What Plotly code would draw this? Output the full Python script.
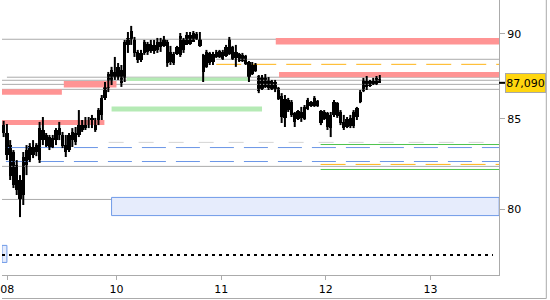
import math
import plotly.graph_objects as go

# ---------------- data ----------------
# 15-minute bars, x = bar index
bar_open = [84.77, 84.20, 83.52, 83.13, 82.41, 81.58, 80.76, 82.41, 82.68, 83.41,
            83.13, 82.68, 84.37, 83.46, 83.97, 83.41, 83.80, 84.48, 84.09, 83.52,
            83.24, 83.80, 84.20, 84.09, 84.77, 84.48, 84.94, 84.65, 84.94, 84.77,
            85.23, 86.21, 86.79, 87.08, 87.73, 87.43, 87.85, 87.38, 89.34, 89.70,
            89.64, 88.92, 88.44, 88.86, 89.40, 88.98, 89.34, 89.04, 89.52, 89.28,
            89.52, 88.32, 88.80, 88.80, 88.74, 89.70, 89.34, 89.94, 89.52, 90.00,
            89.70, 88.74, 88.03, 88.86, 88.32, 88.92, 88.62, 88.92, 88.68, 88.80,
            89.22, 88.56, 88.80, 88.38, 88.68, 88.32, 87.61, 88.20, 87.49, 86.73,
            87.43, 86.79, 87.20, 86.73, 86.79, 86.32, 85.06, 86.09, 85.97, 85.34,
            84.98, 85.40, 85.00, 85.57, 85.97, 85.75, 86.03, 85.45, 85.00, 85.34,
            84.48, 85.23, 85.91, 85.40, 84.83, 84.54, 85.06, 84.60, 85.11, 85.97,
            86.61, 87.20, 86.91, 87.20, 87.02, 87.32]
bar_high = [84.89, 84.71, 83.80, 83.24, 82.68, 81.85, 83.13, 83.52, 83.63, 83.80,
            83.63, 84.83, 85.11, 84.20, 84.09, 84.09, 84.48, 84.83, 84.26, 84.09,
            84.20, 84.48, 84.54, 85.51, 84.94, 85.11, 85.11, 85.23, 85.06, 85.63,
            86.38, 87.14, 87.73, 88.03, 88.62, 88.26, 88.14, 89.64, 90.12, 90.49,
            89.82, 89.04, 89.04, 89.64, 89.52, 89.64, 89.64, 89.76, 89.76, 89.88,
            89.64, 89.28, 88.92, 89.28, 90.06, 89.76, 90.12, 90.12, 90.18, 90.12,
            90.12, 88.80, 89.04, 88.92, 88.92, 89.04, 89.04, 89.04, 89.34, 89.82,
            89.28, 89.34, 88.86, 88.86, 88.74, 88.38, 88.32, 88.26, 87.55, 87.55,
            87.61, 87.43, 87.26, 87.26, 86.85, 86.49, 86.38, 86.21, 86.09, 85.40,
            85.51, 85.69, 85.80, 86.21, 86.03, 86.32, 86.09, 85.51, 85.51, 85.40,
            85.40, 86.09, 85.97, 85.51, 85.23, 85.11, 85.23, 85.51, 85.69, 86.67,
            87.38, 87.49, 87.26, 87.38, 87.49, 87.55]
bar_low = [83.97, 82.68, 81.58, 81.14, 80.76, 79.57, 80.22, 81.85, 82.57, 82.79,
           82.90, 82.52, 83.52, 83.41, 83.24, 83.35, 83.52, 83.80, 83.35, 82.85,
           83.13, 83.41, 83.52, 83.97, 84.26, 84.37, 84.48, 84.48, 84.26, 84.65,
           84.94, 86.09, 86.55, 86.96, 87.26, 87.26, 86.85, 87.14, 88.86, 89.34,
           88.62, 88.26, 88.32, 88.74, 88.74, 88.86, 88.80, 88.86, 88.92, 89.22,
           88.03, 88.14, 88.14, 88.74, 88.62, 88.86, 89.34, 89.34, 89.52, 89.64,
           89.22, 87.14, 87.97, 88.14, 88.14, 88.56, 88.56, 88.44, 88.62, 88.74,
           88.44, 88.03, 88.32, 88.32, 88.14, 87.14, 87.55, 87.73, 86.49, 86.67,
           86.79, 86.67, 86.67, 86.55, 86.09, 84.77, 84.54, 85.40, 85.11, 84.54,
           84.94, 84.83, 84.94, 85.51, 85.69, 85.69, 85.69, 84.65, 84.94, 84.37,
           83.97, 85.11, 85.06, 84.65, 84.37, 84.48, 84.48, 84.48, 84.94, 85.91,
           86.55, 86.67, 86.85, 86.96, 86.96, 87.08]
bar_close = [84.20, 82.96, 81.80, 81.30, 81.03, 80.49, 82.85, 83.24, 83.46, 82.96,
             83.52, 84.48, 83.80, 84.09, 83.35, 83.92, 84.37, 84.09, 83.46, 83.13,
             84.09, 84.26, 83.69, 84.83, 84.37, 84.94, 84.65, 85.06, 84.37, 85.51,
             86.21, 86.96, 87.61, 87.85, 87.43, 88.03, 87.08, 89.52, 89.76, 90.18,
             88.86, 88.44, 88.86, 89.52, 88.92, 89.40, 88.98, 89.52, 89.22, 89.70,
             88.26, 88.92, 88.26, 89.22, 89.88, 89.04, 89.94, 89.40, 90.06, 89.70,
             89.28, 87.73, 88.92, 88.26, 88.80, 88.62, 88.98, 88.50, 89.22, 89.70,
             88.50, 88.92, 88.38, 88.74, 88.20, 87.43, 88.14, 87.79, 86.61, 87.43,
             86.85, 87.26, 86.73, 87.14, 86.15, 85.11, 86.15, 85.51, 85.23, 84.83,
             85.45, 85.06, 85.69, 86.09, 85.75, 86.21, 85.75, 84.77, 85.40, 84.54,
             85.23, 85.97, 85.17, 84.77, 84.48, 85.00, 84.60, 85.40, 85.63, 86.55,
             87.26, 86.85, 87.20, 87.02, 87.38, 87.09]

x_tick_pos = [1.1, 34.5, 66.5, 98.5, 130.5]
x_tick_text = ["08", "10", "11", "12", "13"]
y_tick_vals = [80, 85, 90]
last_price_text = "87,090"

# horizontal levels (price, start bar)
grey_levels = [89.68, 88.48, 87.42, 87.24, 87.00, 86.71, 82.33, 80.52]
grey_starts = [-0.5, 65.0, 1.0, -0.5, -0.5, -0.5, -0.5, -0.5]
orange_levels = [88.18, 82.44]
orange_starts = [65.0, 96.9]
green_levels = [83.55, 82.16]
green_starts = [96.9, 96.9]
blue_dash_levels = [83.38, 82.60]
lightgrey_dash_levels = [83.67]
lightgrey_dash_starts = [32.1]
dotted_level = [77.56]

# zones (low, high, x start, x end)
pink_zones = [(86.40, 86.71, -0.5, 17.8), (86.81, 87.20, 18.4, 34.5),
              (84.65, 84.94, -0.5, 30.8), (89.36, 89.76, 83.2, 151.5),
              (87.42, 87.73, 84.2, 151.5)]
green_zones = [(87.20, 87.40, 37.6, 75.3), (85.42, 85.71, 33.0, 79.0)]
blue_zones = [(79.65, 80.63, 33.0, 151.5), (77.18, 78.07, -0.5, 1.0)]

X_MIN, X_MAX = -0.5, 151.45
Y_MIN, Y_MAX = 76.53, 92.08

# ---------------- figure ----------------
fig = go.Figure()


def hline(level, x0, x1, color, width=1, dash="solid"):
    fig.add_trace(go.Scatter(x=[x0, x1], y=[level, level], mode="lines",
                             line=dict(color=color, width=width, dash=dash),
                             hoverinfo="skip", showlegend=False))


def zone(lo, hi, x0, x1, fill, line_color=None):
    fig.add_trace(go.Scatter(x=[x0, x1, x1, x0, x0], y=[lo, lo, hi, hi, lo],
                             mode="lines", fill="toself", fillcolor=fill,
                             line=dict(color=line_color or fill, width=1 if line_color else 0),
                             hoverinfo="skip", showlegend=False))


for lvl, x0 in zip(grey_levels, grey_starts):
    hline(lvl, x0, X_MAX, "#ababab")
for lo, hi, x0, x1 in blue_zones:
    zone(lo, hi, x0, x1, "#e6ecfc", "#6f9ae8")
for lo, hi, x0, x1 in pink_zones:
    zone(lo, hi, x0, x1, "#ff9494")
for lo, hi, x0, x1 in green_zones:
    zone(lo, hi, x0, x1, "#b5eab5")
for lvl, x0 in zip(lightgrey_dash_levels, lightgrey_dash_starts):
    hline(lvl, x0, X_MAX, "#d4d4d4", dash="15px,15px")
for lvl in blue_dash_levels:
    hline(lvl, 0.7, X_MAX, "#6b96e6", dash="24px,10px")
for lvl, x0 in zip(orange_levels, orange_starts):
    hline(lvl, x0, X_MAX, "#ffb414", dash="25px,10px")
for lvl, x0 in zip(green_levels, green_starts):
    hline(lvl, x0, X_MAX, "#4ec44e")
for lvl in dotted_level:
    hline(lvl, -0.5, 149.6, "#000000", width=2, dash="3px,4px")

# candles: wicks (high-low) + solid black bodies (open-close)
idx = list(range(len(bar_open)))
wick_x, wick_y = [], []
for i, h, l in zip(idx, bar_high, bar_low):
    wick_x += [i, i, None]
    wick_y += [l, h, None]
fig.add_trace(go.Scatter(x=wick_x, y=wick_y, mode="lines",
                         line=dict(color="black", width=2),
                         hoverinfo="skip", showlegend=False))
body_base = [min(o, c) for o, c in zip(bar_open, bar_close)]
body_len = [max(abs(o - c), 0.02) for o, c in zip(bar_open, bar_close)]
fig.add_trace(go.Bar(x=idx, y=body_len, base=body_base, width=1.0,
                     marker=dict(color="black", line=dict(width=0)),
                     hoverinfo="skip", showlegend=False))

font = dict(family="DejaVu Sans", size=11, color="black")

fig.update_layout(
    width=550, height=300,
    margin=dict(l=0, r=51, t=0, b=25),
    paper_bgcolor="white", plot_bgcolor="white",
    showlegend=False, bargap=0,
    xaxis=dict(range=[X_MIN, X_MAX], showgrid=False, zeroline=False,
               showline=True, linecolor="#ababab", linewidth=1,
               ticks="outside", ticklen=4, tickcolor="#ababab",
               tickvals=x_tick_pos, ticktext=x_tick_text, tickfont=font,
               ticklabeloverflow="allow", fixedrange=True),
    yaxis=dict(type="log", side="right",
               range=[math.log10(Y_MIN), math.log10(Y_MAX)],
               showgrid=False, zeroline=False,
               showline=True, linecolor="#ababab", linewidth=1,
               ticks="outside", ticklen=5, tickcolor="#ababab",
               tickvals=y_tick_vals, ticktext=[str(v) for v in y_tick_vals],
               tickfont=font, fixedrange=True),
)

# outer frame (right and bottom)
fig.add_shape(type="line", xref="paper", yref="paper",
              x0=546.5 / 499, x1=546.5 / 499, y0=1, y1=-23.5 / 275,
              line=dict(color="#ababab", width=1))
fig.add_shape(type="line", xref="paper", yref="paper",
              x0=0, x1=546.5 / 499, y0=-23.5 / 275, y1=-23.5 / 275,
              line=dict(color="#ababab", width=1))

# last price marker
last = bar_close[-1]
fig.add_shape(type="line", xref="paper", yref="y",
              x0=1.0, x1=506 / 499, y0=last, y1=last,
              line=dict(color="black", width=2))
fig.add_annotation(xref="paper", yref="y", x=505 / 499, y=math.log10(last),
                   xanchor="left", yanchor="middle", text=last_price_text,
                   showarrow=False, font=dict(family="DejaVu Sans", size=11, color="black"),
                   bgcolor="#ffd60f", bordercolor="#a8a8a8", borderwidth=1,
                   borderpad=0, width=39, height=18)

fig.write_html("out.html")
